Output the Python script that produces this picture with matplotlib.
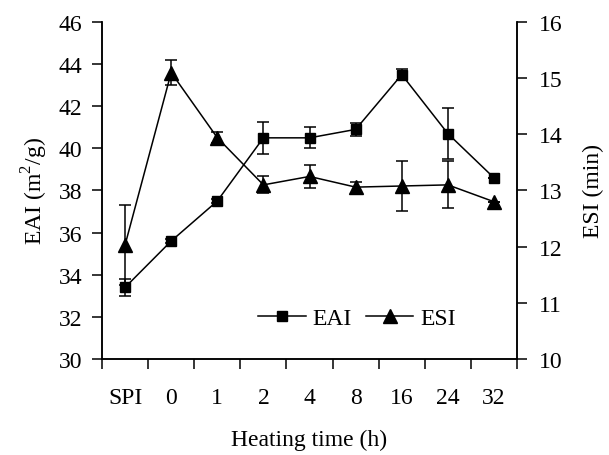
import numpy as np
import matplotlib.pyplot as plt

# Data
categories = ['SPI', '0', '1', '2', '4', '8', '16', '24', '32']
eai = [33.4, 35.6, 37.5, 40.5, 40.5, 40.9, 43.5, 40.7, 38.6]
eai_err = [0.4, 0.1, 0.1, 0.75, 0.5, 0.3, 0.25, 1.2, 0.0]
esi = [12.03, 15.1, 13.94, 13.1, 13.25, 13.06, 13.08, 13.1, 12.8]
esi_err = [0.72, 0.23, 0.1, 0.15, 0.2, 0.1, 0.45, 0.42, 0.0]

plt.rcParams['font.family'] = ['Liberation Serif', 'DejaVu Serif']
plt.rcParams['font.size'] = 17
plt.rcParams['mathtext.fontset'] = 'custom'
plt.rcParams['mathtext.rm'] = 'Liberation Serif'

fig = plt.figure(figsize=(6.09, 4.56), dpi=100)
ax1 = fig.add_axes([0.1675, 0.2105, 0.6815, 0.7391])
ax2 = ax1.twinx()

x = np.arange(len(categories))

# EAI on the left axis
l1 = ax1.errorbar(x, eai, yerr=eai_err, color='black', marker='s', markersize=6.5,
                  linewidth=1.1, elinewidth=1.1, capsize=4, capthick=1.1, label='EAI')
# ESI on the right axis
l2 = ax2.errorbar(x, esi, yerr=esi_err, color='black', marker='^', markersize=9.5,
                  linewidth=1.1, elinewidth=1.1, capsize=4, capthick=1.1, label='ESI')

ax1.set_xlim(-0.5, len(categories) - 0.5)
ax1.set_ylim(30, 46)
ax1.set_yticks(np.arange(30, 47, 2))
ax2.set_ylim(10, 16)
ax2.set_yticks(np.arange(10, 17, 1))

# category boundaries as major ticks, labels on minor ticks
ax1.set_xticks(np.arange(-0.5, len(categories), 1.0))
ax1.set_xticklabels([])
ax1.set_xticks(x, minor=True)
ax1.set_xticklabels(categories, minor=True)
ax1.tick_params(axis='x', which='major', direction='out', length=7, width=1.1)
ax1.tick_params(axis='x', which='minor', length=0, pad=20)
ax1.tick_params(axis='y', direction='out', length=7, width=1.1, pad=7)
ax2.tick_params(axis='y', direction='out', length=7, width=1.1, pad=9)

for ax in (ax1, ax2):
    ax.spines['top'].set_visible(False)
    for s in ('left', 'right', 'bottom'):
        ax.spines[s].set_linewidth(1.1)

ax1.set_xlabel('Heating time (h)', labelpad=15)
ax1.set_ylabel('EAI (m$^\\mathregular{2}$/g)', labelpad=6)
ax2.set_ylabel('ESI (min)', labelpad=14)

ax1.legend([l1[0], l2[0]], ['EAI', 'ESI'], loc='center', bbox_to_anchor=(0.615, 0.12),
           ncol=2, frameon=False, handlelength=2.0, columnspacing=0.6,
           handletextpad=0.3, fontsize=17)

fig.savefig('out.png', dpi=100)
